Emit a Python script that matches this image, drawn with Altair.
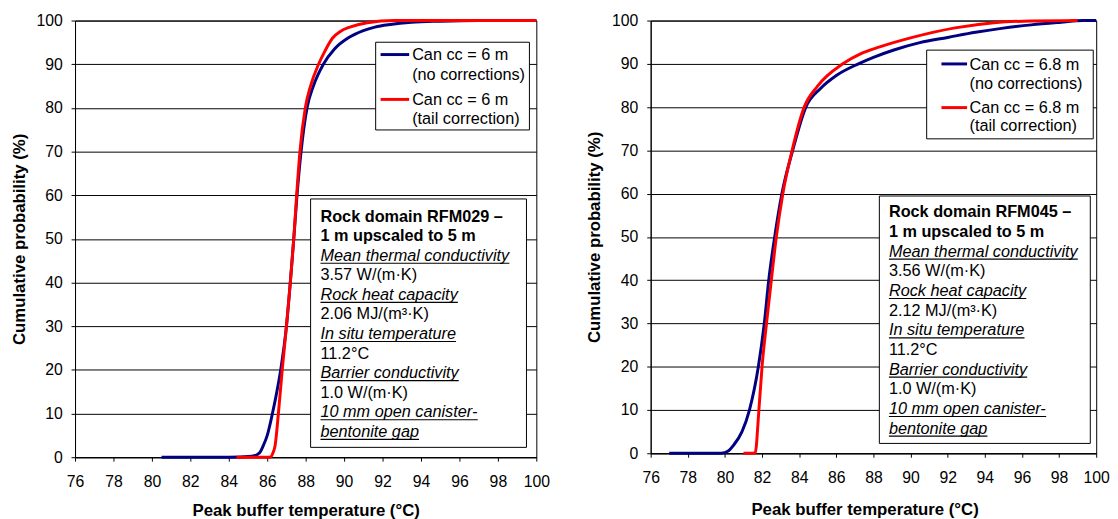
import altair as alt
import pandas as pd

FONT = "Liberation Sans"
BLUE = "#000080"
RED = "#FF0000"
TXT = 16.5

# ---------------- data ----------------
x_ticks = list(range(76, 101, 2))
y_ticks = list(range(0, 101, 10))

# Left panel: RFM029, Can cc = 6 m
left_blue_T = [80.5, 84.0, 85.2, 85.6, 85.8, 86.0, 86.27, 86.5, 86.7, 87.0, 87.2, 87.38,
               87.55, 87.76, 88.07, 88.4, 88.92, 89.5, 90.2, 91.0, 91.6, 92.4, 93.5, 95.0, 97.0, 100.0]
left_blue_P = [0, 0, 0.2, 1.0, 2.7, 5.0, 10, 15, 20, 30, 40, 50,
               60, 70, 80, 85, 90, 93.5, 96, 97.7, 98.5, 99.1, 99.6, 99.85, 100, 100]
left_red_T = [84.4, 86.15, 86.3, 86.41, 86.58, 86.78, 87.0, 87.2, 87.38, 87.53, 87.7, 87.98,
              88.25, 88.67, 89.0, 89.4, 89.8, 90.3, 91.2, 92.6, 100.0]
left_red_P = [0, 0, 1.0, 2.7, 10, 20, 30, 40, 50, 60, 70, 80,
              85, 90, 93, 96, 97.5, 98.5, 99.5, 100, 100]

# Right panel: RFM045, Can cc = 6.8 m
right_blue_T = [77.0, 79.8, 80.2, 80.47, 80.92, 81.32, 81.8, 82.12, 82.36, 82.68, 83.07, 83.65,
                84.36, 85.15, 86.0, 87.19, 88.0, 89.1, 90.5, 92.0, 93.5, 94.9, 96.5, 98.1, 99.3, 100.0]
right_blue_P = [0, 0, 0.6, 1.9, 5, 10, 20, 30, 40, 50, 60, 70,
                80, 84.3, 87.3, 90, 91.5, 93.2, 94.9, 96.1, 97.3, 98.2, 99.0, 99.6, 100, 100]
right_red_T = [81.0, 81.62, 81.7, 81.75, 81.83, 82.0, 82.24, 82.5, 82.77, 83.12, 83.62, 84.27,
               84.98, 86.35, 87.3, 88.34, 90.1, 92.4, 94.5, 96.5, 99.0]
right_red_P = [0, 0, 2, 5, 10, 20, 30, 40, 50, 60, 70, 80,
               84.8, 90, 92.3, 93.9, 96.1, 98.3, 99.5, 99.9, 100]

x_title = "Peak buffer temperature (°C)"
y_title = "Cumulative probability (%)"

left_legend = ["Can cc = 6 m", "(no corrections)", "Can cc = 6 m", "(tail correction)"]
right_legend = ["Can cc = 6.8 m", "(no corrections)", "Can cc = 6.8 m", "(tail correction)"]
legend_entry = [0, 0, 1, 1]
legend_line = [0, 1, 0, 1]

left_box = ["Rock domain RFM029 –", "1 m upscaled to 5 m", "Mean thermal conductivity",
            "3.57 W/(m·K)", "Rock heat capacity", "2.06 MJ/(m³·K)", "In situ temperature",
            "11.2°C", "Barrier conductivity", "1.0 W/(m·K)", "10 mm open canister-", "bentonite gap"]
right_box = ["Rock domain RFM045 –", "1 m upscaled to 5 m", "Mean thermal conductivity",
             "3.56 W/(m·K)", "Rock heat capacity", "2.12 MJ/(m³·K)", "In situ temperature",
             "11.2°C", "Barrier conductivity", "1.0 W/(m·K)", "10 mm open canister-", "bentonite gap"]
box_kind = ["bold", "bold", "italic", "normal", "italic", "normal", "italic",
            "normal", "italic", "normal", "italic", "italic"]

# ---------------- helpers ----------------
ARIAL = {' ': 278, 'M': 833, 'e': 556, 'a': 556, 'n': 556, 't': 278, 'h': 556, 'r': 333,
         'm': 833, 'l': 222, 'c': 500, 'o': 556, 'd': 556, 'u': 556, 'i': 222, 'v': 500,
         'y': 500, 'R': 722, 'k': 500, 'p': 556, 'I': 278, 's': 500, 'B': 667, '1': 556,
         '0': 556, '-': 333, 'b': 556, 'g': 556}


def text_px(s, size=TXT):
    return sum(ARIAL.get(ch, 556) for ch in s) * size / 1000.0


one = pd.DataFrame({"k": [0]})


def panel(bT, bP, rT, rP, W, H, legend_text, box_text, geo, title_pad, title_x=None):
    xs = alt.Scale(domain=[76, 100], nice=False, zero=False)
    ys = alt.Scale(domain=[0, 100], nice=False, zero=False)
    xa_kw = dict(values=x_ticks, title=x_title, grid=False, labelFlush=False, labelOverlap=False,
                 titlePadding=title_pad)
    if title_x is not None:
        xa_kw["titleX"] = title_x
    xaxis = alt.Axis(**xa_kw)
    yaxis = alt.Axis(values=y_ticks, title=y_title, grid=True, labelOverlap=False)

    blue = alt.Chart(pd.DataFrame({"T": bT, "P": bP})).mark_line(
        color=BLUE, strokeWidth=3, interpolate="monotone").encode(
        x=alt.X("T:Q", scale=xs, axis=xaxis), y=alt.Y("P:Q", scale=ys, axis=yaxis))
    red = alt.Chart(pd.DataFrame({"T": rT, "P": rP})).mark_line(
        color=RED, strokeWidth=3, interpolate="monotone").encode(
        x=alt.X("T:Q", scale=xs, axis=xaxis), y=alt.Y("P:Q", scale=ys, axis=yaxis))

    # legend box
    lx1, lx2, ly1, ly2 = geo["leg_box"]
    leg_box = alt.Chart(one).mark_rect(fill="white", stroke="black", strokeWidth=1).encode(
        x=alt.value(lx1), x2=alt.value(lx2), y=alt.value(ly1), y2=alt.value(ly2))
    sx1, sx2 = geo["leg_sample_x"]
    sy = geo["leg_sample_y"]
    s_blue = alt.Chart(one).mark_rule(color=BLUE, strokeWidth=3).encode(
        x=alt.value(sx1), x2=alt.value(sx2), y=alt.value(sy[0]))
    s_red = alt.Chart(one).mark_rule(color=RED, strokeWidth=3).encode(
        x=alt.value(sx1), x2=alt.value(sx2), y=alt.value(sy[1]))
    ty0, tgap, tstep = geo["leg_text_y"]
    leg_df = pd.DataFrame({"text": legend_text, "e": legend_entry, "l": legend_line})
    leg_txt = alt.Chart(leg_df).transform_calculate(
        py=f"100 - ({ty0} + datum.e * {tgap} + datum.l * {tstep}) * 100 / {H}"
    ).mark_text(align="left", baseline="middle", font=FONT, fontSize=TXT, color="black").encode(
        x=alt.value(geo["leg_text_x"]), y=alt.Y("py:Q", scale=ys, axis=yaxis), text="text:N")

    # annotation box
    bx1, bx2, by1, by2 = geo["box"]
    box = alt.Chart(one).mark_rect(fill="white", stroke="black", strokeWidth=1).encode(
        x=alt.value(bx1), x2=alt.value(bx2), y=alt.value(by1), y2=alt.value(by2))
    x0 = geo["box_text_x"]
    y0, step = geo["box_text_y"]
    bdf = pd.DataFrame({"text": box_text, "kind": box_kind, "k": list(range(len(box_text)))})
    bdf["w"] = [text_px(t) for t in box_text]
    base = alt.Chart(bdf).transform_calculate(
        py=f"100 - ({y0} + datum.k * {step}) * 100 / {H}",
        uy=f"100 - ({y0} + datum.k * {step} + 7.5) * 100 / {H}",
        ux1=f"76 + {x0} * 24 / {W}",
        ux2=f"76 + ({x0} + datum.w) * 24 / {W}")
    layers = []
    for kind, weight, style in [("bold", "bold", "normal"), ("italic", "normal", "italic"),
                                ("normal", "normal", "normal")]:
        layers.append(base.transform_filter(f"datum.kind == '{kind}'").mark_text(
            align="left", baseline="middle", font=FONT, fontSize=TXT, fontWeight=weight,
            fontStyle=style, color="black").encode(
            x=alt.value(x0), y=alt.Y("py:Q", scale=ys, axis=yaxis), text="text:N"))
    under = base.transform_filter("datum.kind == 'italic'").mark_rule(
        color="black", strokeWidth=1.2).encode(
        x=alt.X("ux1:Q", scale=xs, axis=xaxis), x2="ux2:Q",
        y=alt.Y("uy:Q", scale=ys, axis=yaxis))

    return alt.layer(blue, red, leg_box, s_blue, s_red, leg_txt, box, *layers, under).properties(
        width=W, height=H)


left_geo = dict(leg_box=(305, 461, 22, 111), leg_sample_x=(310, 339), leg_sample_y=(34.5, 80),
                leg_text_y=(35.5, 45, 19.5), leg_text_x=342,
                box=(239, 458, 181, 433), box_text_x=249, box_text_y=(199, 19.85))
right_geo = dict(leg_box=(280, 449, 30, 120), leg_sample_x=(295, 321), leg_sample_y=(44, 88.3),
                 leg_text_y=(45, 43.3, 19.2), leg_text_x=323.5,
                 box=(232, 446, 178, 429), box_text_x=241.7, box_text_y=(194.7, 19.95))

left = panel(left_blue_T, left_blue_P, left_red_T, left_red_P, 468, 443,
             left_legend, left_box, left_geo, title_pad=13)
right = panel(right_blue_T, right_blue_P, right_red_T, right_red_P, 452, 439,
              right_legend, right_box, right_geo, title_pad=16, title_x=217)

chart = alt.hconcat(left, right, spacing=35).properties(
    padding={"left": 1, "top": 0, "right": 0, "bottom": 0}
).configure(font=FONT).configure_view(
    stroke="black", strokeWidth=1
).configure_axis(
    domainColor="black", domainWidth=1, tickColor="black", tickWidth=1, tickSize=4,
    gridColor="black", gridWidth=1, labelColor="black", titleColor="black",
    labelFont=FONT, titleFont=FONT, labelFontSize=16, titleFontSize=17,
    titleFontWeight="bold"
).configure_axisX(labelPadding=13).configure_axisY(labelPadding=9, titlePadding=8)

chart.save("out.html", embed_options={"renderer": "svg", "actions": False})
